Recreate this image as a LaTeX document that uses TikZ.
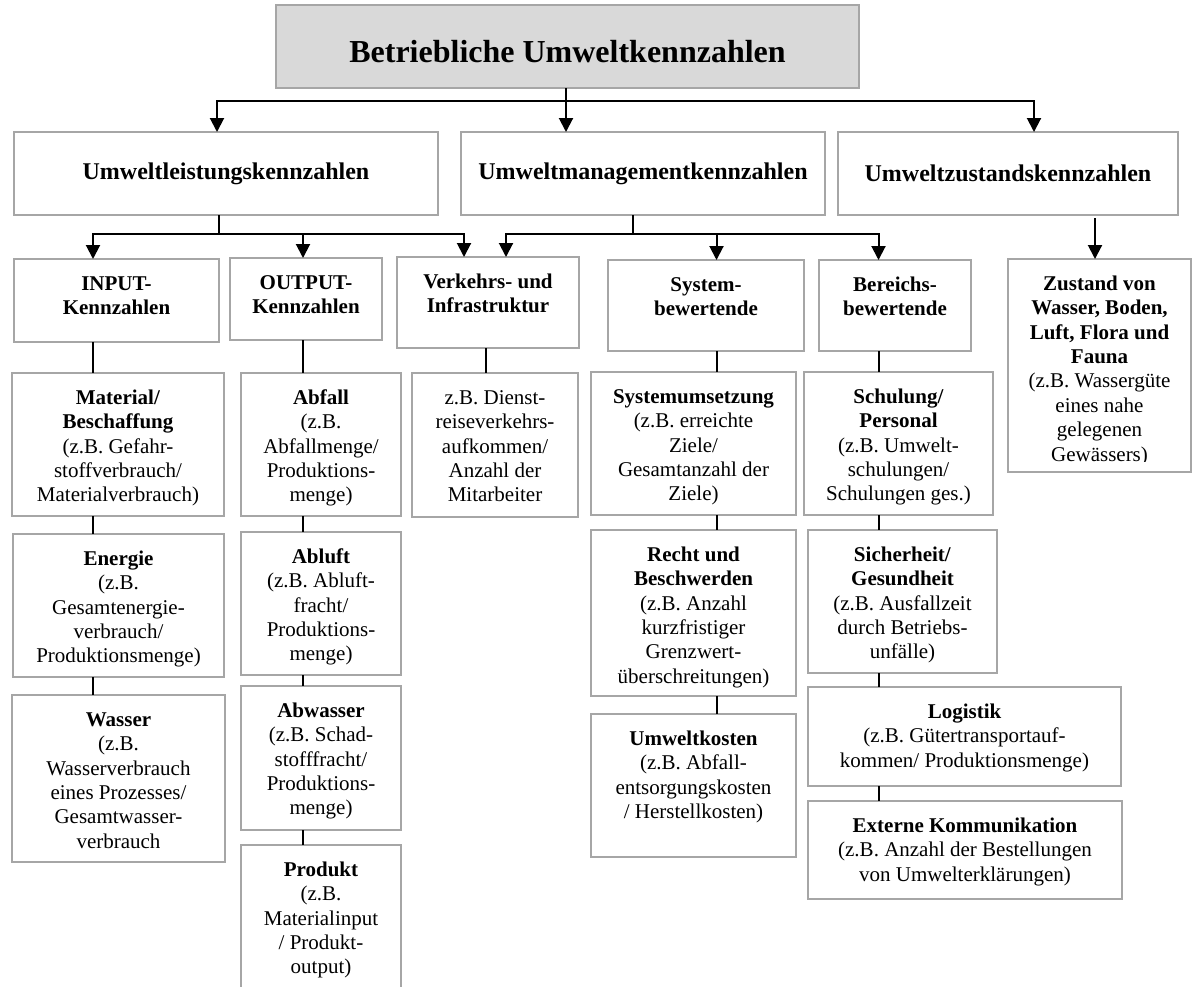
\documentclass[tikz,border=0pt]{standalone}
\usepackage{fontspec}
\setmainfont{Liberation Serif}
\usetikzlibrary{arrows.meta}
\definecolor{framegray}{RGB}{166,166,166}
\definecolor{titlefill}{RGB}{217,217,217}
\newcommand\bodysize{\fontsize{21}{24.4}\selectfont}
\newcommand\headsize{\fontsize{24}{28}\selectfont\bfseries}
\newcommand\titlesize{\fontsize{32}{38}\selectfont\bfseries}
% frame: name, left, top, right, bottom
\newcommand\kzbox[5]{\node[kzframe, anchor=north west, minimum width={#4-#2}, minimum height={#5-#3}] (#1) at (#2,#3) {};}
% text set from the top of a frame
\newcommand\kztext[2]{\node[kztext] (#1-text) at ([yshift=-14pt]#1.north) {\strut #2};}
\begin{document}
\begin{tikzpicture}[x=1pt,y=-1pt,
  kzframe/.style={draw=framegray, line width=2pt, fill=white, inner sep=0pt, outer sep=0pt},
  kztext/.style={anchor=north, align=center, inner sep=0pt, font=\bodysize},
  kzline/.style={line width=2pt},
  kzarrow/.style={line width=2pt, -{Triangle[width=14pt,length=14pt]}}]
\useasboundingbox[fill=white] (0,0) rectangle (1193,986);

% ---- title ----
\node[kzframe, fill=titlefill, anchor=north west, minimum width=583, minimum height=83] (title) at (276,5) {};
\node[font=\titlesize, inner sep=0pt] (title-text) at ([yshift=-5pt]title.center) {Betriebliche Umweltkennzahlen};

% ---- main groups ----
\kzbox{L1}{14}{132}{438}{215}
\kzbox{L2}{461}{132}{825}{215}
\kzbox{L3}{838}{132}{1178}{215}
\node[font=\headsize] at (L1) {Umweltleistungskennzahlen};
\node[font=\headsize] at (L2) {Umweltmanagementkennzahlen};
\node[font=\headsize] at (L3) {Umweltzustandskennzahlen};

% ---- sub groups ----
\kzbox{A1}{14}{259}{219}{342}
\kzbox{A2}{230}{258}{382}{340}
\kzbox{A3}{397}{257}{579}{348}
\kzbox{A4}{608}{260}{804}{351}
\kzbox{A5}{819}{260}{971}{351}
\kzbox{A6}{1008}{259}{1191}{472}
\kztext{A1}{\textbf{INPUT-}\\\textbf{Kennzahlen}}
\kztext{A2}{\textbf{OUTPUT-}\\\textbf{Kennzahlen}}
\kztext{A3}{\textbf{Verkehrs- und}\\\textbf{Infrastruktur}}
\kztext{A4}{\textbf{System-}\\\textbf{bewertende}}
\kztext{A5}{\textbf{Bereichs-}\\\textbf{bewertende}}
\begin{scope}
  \clip (1008,259) rectangle (1191,461);
  \kztext{A6}{\textbf{Zustand von}\\\textbf{Wasser, Boden,}\\\textbf{Luft, Flora und}\\\textbf{Fauna}\\(z.B. Wassergüte\\eines nahe\\gelegenen\\Gewässers)}
\end{scope}

% ---- INPUT column ----
\kzbox{B1}{12}{373}{224}{516}
\kzbox{B2}{13}{534}{224}{677}
\kzbox{B3}{12}{695}{225}{862}
\kztext{B1}{\textbf{Material/}\\\textbf{Beschaffung}\\(z.B. Gefahr-\\stoffverbrauch/\\Materialverbrauch)}
\kztext{B2}{\textbf{Energie}\\(z.B.\\Gesamtenergie-\\verbrauch/\\Produktionsmenge)}
\kztext{B3}{\textbf{Wasser}\\(z.B.\\Wasserverbrauch\\eines Prozesses/\\Gesamtwasser-\\verbrauch}

% ---- OUTPUT column ----
\kzbox{C1}{241}{373}{401}{516}
\kzbox{C2}{241}{532}{401}{675}
\kzbox{C3}{241}{686}{401}{830}
\kzbox{C4}{241}{845}{401}{1000}
\kztext{C1}{\textbf{Abfall}\\(z.B.\\Abfallmenge/\\Produktions-\\menge)}
\kztext{C2}{\textbf{Abluft}\\(z.B. Abluft-\\fracht/\\Produktions-\\menge)}
\kztext{C3}{\textbf{Abwasser}\\(z.B. Schad-\\stofffracht/\\Produktions-\\menge)}
\kztext{C4}{\textbf{Produkt}\\(z.B.\\Materialinput\\/ Produkt-\\output)}

% ---- traffic column ----
\kzbox{D1}{412}{373}{578}{517}
\kztext{D1}{z.B. Dienst-\\reiseverkehrs-\\aufkommen/\\Anzahl der\\Mitarbeiter}

% ---- system column ----
\kzbox{E1}{591}{372}{796}{515}
\kzbox{E2}{591}{530}{796}{696}
\kzbox{E3}{591}{714}{796}{857}
\kztext{E1}{\textbf{Systemumsetzung}\\(z.B. erreichte\\Ziele/\\Gesamtanzahl der\\Ziele)}
\kztext{E2}{\textbf{Recht und}\\\textbf{Beschwerden}\\(z.B. Anzahl\\kurzfristiger\\Grenzwert-\\überschreitungen)}
\kztext{E3}{\textbf{Umweltkosten}\\(z.B. Abfall-\\entsorgungskosten\\/ Herstellkosten)}

% ---- area column ----
\kzbox{F1}{804}{372}{993}{515}
\kzbox{F2}{808}{530}{997}{673}
\kzbox{F3}{808}{687}{1121}{786}
\kzbox{F4}{808}{801}{1122}{899}
\kztext{F1}{\textbf{Schulung/}\\\textbf{Personal}\\(z.B. Umwelt-\\schulungen/\\Schulungen ges.)}
\kztext{F2}{\textbf{Sicherheit/}\\\textbf{Gesundheit}\\(z.B. Ausfallzeit\\durch Betriebs-\\unfälle)}
\kztext{F3}{\textbf{Logistik}\\(z.B. Gütertransportauf-\\kommen/ Produktionsmenge)}
\kztext{F4}{\textbf{Externe Kommunikation}\\(z.B. Anzahl der Bestellungen\\von Umwelterklärungen)}

% ---- connector positions ----
\coordinate (t0) at (566,101);
\coordinate (t1) at (217,101);
\coordinate (t3) at (1034,101);
\coordinate (b1) at (219,234);
\coordinate (b2) at (633,234);
\coordinate (xa) at (93,0);
\coordinate (xb) at (303,0);
\coordinate (xv) at (464,0);
\coordinate (xw) at (506,0);
\coordinate (xc) at (486,0);
\coordinate (xd) at (716.5,0);
\coordinate (xe) at (878.5,0);
\coordinate (xz) at (1095,0);

% title to main groups
\draw[kzline] (t0 |- title.south) -- (t0);
\draw[kzarrow] (t0) -| (t1 |- L1.north);
\draw[kzarrow] (t0) -- (t0 |- L2.north);
\draw[kzarrow] (t0) -| (t3 |- L3.north);

% main groups to sub groups
\draw[kzline] (b1 |- L1.south) -- (b1);
\draw[kzarrow] (b1) -| (xa |- A1.north);
\draw[kzarrow] (b1) -| (xb |- A2.north);
\draw[kzarrow] (b1) -| (xv |- A3.north);
\draw[kzline] (b2 |- L2.south) -- (b2);
\draw[kzarrow] (b2) -| (xw |- A3.north);
\draw[kzarrow] (b2) -| (xd |- A4.north);
\draw[kzarrow] (b2) -| (xe |- A5.north);
\draw[kzarrow] ([yshift=-3pt]xz |- L3.south) -- (xz |- A6.north);

% chains of indicators
\draw[kzline] (xa |- A1.south) -- (xa |- B1.north);
\draw[kzline] (xa |- B1.south) -- (xa |- B2.north);
\draw[kzline] (xa |- B2.south) -- (xa |- B3.north);
\draw[kzline] (xb |- A2.south) -- (xb |- C1.north);
\draw[kzline] (xb |- C1.south) -- (xb |- C2.north);
\draw[kzline] (xb |- C2.south) -- (xb |- C3.north);
\draw[kzline] (xb |- C3.south) -- (xb |- C4.north);
\draw[kzline] (xc |- A3.south) -- (xc |- D1.north);
\draw[kzline] (xd |- A4.south) -- (xd |- E1.north);
\draw[kzline] (xd |- E1.south) -- (xd |- E2.north);
\draw[kzline] (xd |- E2.south) -- (xd |- E3.north);
\draw[kzline] (xe |- A5.south) -- (xe |- F1.north);
\draw[kzline] (xe |- F1.south) -- (xe |- F2.north);
\draw[kzline] (xe |- F2.south) -- (xe |- F3.north);
\draw[kzline] (xe |- F3.south) -- (xe |- F4.north);
\end{tikzpicture}
\end{document}
